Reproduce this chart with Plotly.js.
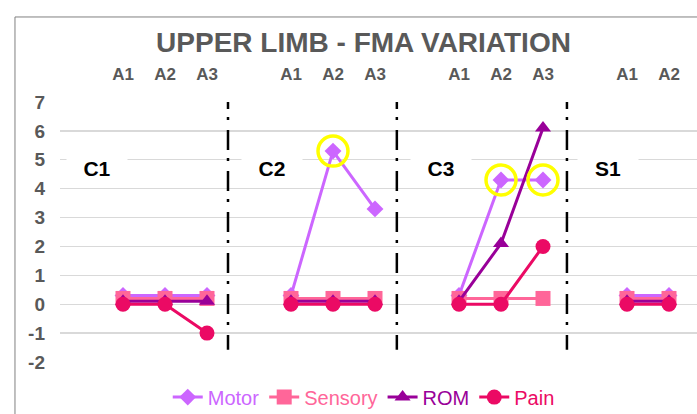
<!DOCTYPE html>
<html><head><meta charset="utf-8">
<script src="https://cdn.plot.ly/plotly-3.0.1.min.js"></script>
<style>
html,body{margin:0;padding:0;overflow:hidden;background:#fff;width:697px;height:414px}
#chart{width:760px;height:414px}
</style>
</head><body><div id="chart"></div>
<script>
const chartTitle = "UPPER LIMB - FMA VARIATION";
const groups = ["C1", "C2", "C3", "S1"];
const assessments = [["A1","A2","A3"], ["A1","A2","A3"], ["A1","A2","A3"], ["A1","A2"]];
const seriesNames = ["Motor", "Sensory", "ROM", "Pain"];
const motor   = [[0.3, 0.3, 0.3], [0.3, 5.3, 3.3], [0.3, 4.3, 4.3], [0.3, 0.3]];
const sensory = [[0.2, 0.2, 0.2], [0.2, 0.2, 0.2], [0.2, 0.2, 0.2], [0.2, 0.2]];
const rom     = [[0.1, 0.1, 0.1], [0.1, 0.1, 0.1], [0.1, 2.1, 6.1], [0.1, 0.1]];
const pain    = [[0, 0, -1], [0, 0, 0], [0, 0, 2], [0, 0]];
const highlighted = [["C2", "A2"], ["C3", "A2"], ["C3", "A3"]];
const yTicks = [-2, -1, 0, 1, 2, 3, 4, 5, 6, 7];
const yTickText = ["-2", "-1", "0", "1", "2", "3", "4", "5", "6", "7"];

// layout / style (not data)
const FONT = "Liberation Sans, Arial, sans-serif";
const slotsPerGroup = 4;
const pos = (g, a) => g * slotsPerGroup + 1 + a;
const colors = {Motor: "#CC66FF", Sensory: "#FF6699", ROM: "#990099", Pain: "#EB0A64"};
const symbols = {Motor: "diamond", Sensory: "square", ROM: "triangle-up", Pain: "circle"};
const sizes = {Motor: 13, Sensory: 15, ROM: 14, Pain: 15};
const labelOffsets = [0.37, 0.54, 0.57, 0.55];
const dividerX = [3.5, 7.52, 11.57];

function buildXY(vals) {
  const x = [], y = [];
  vals.forEach((gv, g) => {
    gv.forEach((v, a) => { x.push(pos(g, a)); y.push(v); });
    x.push(null); y.push(null);
  });
  return {x, y};
}

const dataBySeries = {Motor: motor, Sensory: sensory, ROM: rom, Pain: pain};
const traces = seriesNames.map(name => {
  const xy = buildXY(dataBySeries[name]);
  return {
    type: "scatter", mode: "lines+markers", x: xy.x, y: xy.y, connectgaps: false,
    name: `<span style="color:${colors[name]}">${name}</span>`,
    line: {color: colors[name], width: 3},
    marker: {symbol: symbols[name], size: sizes[name], color: colors[name]},
    cliponaxis: false, hoverinfo: "skip"
  };
});

const hx = [], hy = [];
highlighted.forEach(([grp, as]) => {
  const g = groups.indexOf(grp), a = assessments[g].indexOf(as);
  hx.push(pos(g, a)); hy.push(motor[g][a]);
});
traces.push({
  type: "scatter", mode: "markers", x: hx, y: hy, showlegend: false, hoverinfo: "skip",
  marker: {symbol: "circle-open", size: 30, color: "#FFFF00", line: {width: 3.5, color: "#FFFF00"}},
  cliponaxis: false
});

const tickvals = [], ticktext = [];
assessments.forEach((list, g) => list.forEach((t, a) => { tickvals.push(pos(g, a)); ticktext.push(t); }));

const shapes = dividerX.map(x => ({
  type: "line", xref: "x", yref: "y", x0: x, x1: x, y0: 7.45, y1: -1.58,
  line: {color: "#000000", width: 2.5, dash: "20px,8px,3px,10px"}
}));
shapes.push({type: "rect", xref: "paper", yref: "paper", x0: -0.067, x1: 1.3, y0: -0.8, y1: 1.327,
  line: {color: "#808080", width: 1}, fillcolor: "rgba(0,0,0,0)", layer: "below"});

const annotations = groups.map((g, i) => ({
  x: i * slotsPerGroup + labelOffsets[i], xref: "x", y: 0.746, yref: "paper",
  text: g, showarrow: false, bgcolor: "#FFFFFF", width: 58, height: 30,
  font: {family: FONT, size: 21, color: "#000000", weight: 700},
  xanchor: "center", yanchor: "middle"
}));

const layout = {
  width: 760, height: 414,
  margin: {l: 60, r: 28, t: 102, b: 52, autoexpand: false},
  paper_bgcolor: "#FFFFFF", plot_bgcolor: "#FFFFFF",
  title: {text: chartTitle, xref: "container", yref: "container", x: 363.5 / 760, y: 1 - 42 / 414,
    xanchor: "center", yanchor: "middle", automargin: false,
    font: {family: FONT, size: 28, color: "#595959", weight: 700}},
  xaxis: {range: [-0.5, 15.5], side: "top", tickmode: "array", tickvals, ticktext,
    showgrid: false, zeroline: false, showline: false, ticks: "", ticklabelstandoff: 18,
    tickfont: {family: FONT, size: 17, color: "#595959", weight: 700}, fixedrange: true, automargin: false},
  yaxis: {range: [-2, 7], tickmode: "array", tickvals: yTicks, ticktext: yTickText, showgrid: true, gridcolor: "#D9D9D9",
    gridwidth: 1.3, zeroline: false, showline: false, ticks: "", ticklabelstandoff: 14,
    tickfont: {family: FONT, size: 19, color: "#595959", weight: 700}, fixedrange: true, automargin: false},
  showlegend: true,
  legend: {orientation: "h", x: 0.452, xanchor: "center", y: -0.135, yanchor: "middle",
    font: {family: FONT, size: 20, color: "#595959"}, itemgap: 16, bgcolor: "rgba(0,0,0,0)"},
  shapes, annotations
};

Plotly.newPlot("chart", traces, layout, {displayModeBar: false, staticPlot: true});
</script>
</body></html>
